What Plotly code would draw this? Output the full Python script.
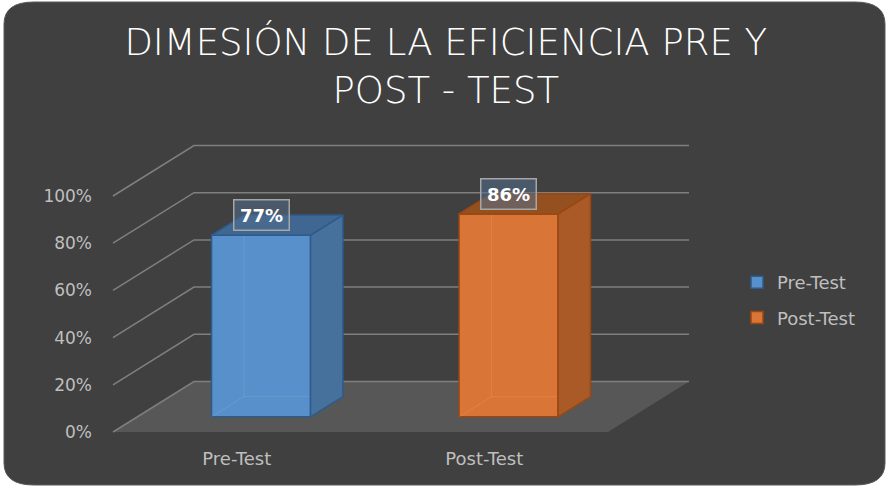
import plotly.graph_objects as go

# ---------------- data ----------------
categories = ["Pre-Test", "Post-Test"]
values = [0.77, 0.86]
value_labels = ["77%", "86%"]
tick_values = [0, 0.2, 0.4, 0.6, 0.8, 1.0]
tick_labels = ["0%", "20%", "40%", "60%", "80%", "100%"]
title_text = "DIMESIÓN DE LA EFICIENCIA PRE Y<br>POST - TEST"

# ---------------- styles ----------------
front_colors = ["#5790ca", "#d97536"]
side_colors = ["#46719d", "#a95a27"]
top_colors = ["#3f6791", "#94501f"]
edge_colors = ["#2d5b8a", "#9a4712"]
BG = "#404040"
FLOOR = "#575757"
GRID = "#7f7f7f"
TXT = "#bfbfbf"
FONT = "DejaVu Sans"

# ---------------- geometry (pixel layout) ----------------
W, H = 888, 486
ML, MR, MT, MB = 96, 188, 140, 46
PX0, PX1, PY0, PY1 = ML, W - MR, MT, H - MB
UX = 247.5          # px per category unit
UY = 236.0          # px per 100 %
FX, FY = 113, 432   # pixel of front-left floor corner
xr = [-0.5 - (FX - PX0) / UX, -0.5 + (PX1 - FX) / UX]
yr = [-(PY1 - FY) / UY, (FY - PY0) / UY]
DXU = 81 / UX       # full depth offset, x
DYU = 50.5 / UY     # full depth offset, y
BW = 0.4            # bar width (category units)
D0, D1 = 0.3, 0.7   # bar depth span


def P(x, v, d):
    return x + d * DXU, v + d * DYU


def path(points, close=True):
    s = "M " + " L ".join(f"{a:.5f},{b:.5f}" for a, b in points)
    return s + (" Z" if close else "")


def ppx(px):
    return (px - PX0) / (PX1 - PX0)


def ppy(py):
    return (PY1 - py) / (PY1 - PY0)


shapes = []
# rounded dark panel
x0, x1, y0, y1, rx, ry = 4, 885, 2, 485, 30, 22
pan = (f"M {ppx(x0+rx)},{ppy(y0)} L {ppx(x1-rx)},{ppy(y0)} Q {ppx(x1)},{ppy(y0)} {ppx(x1)},{ppy(y0+ry)} "
       f"L {ppx(x1)},{ppy(y1-ry)} Q {ppx(x1)},{ppy(y1)} {ppx(x1-rx)},{ppy(y1)} "
       f"L {ppx(x0+rx)},{ppy(y1)} Q {ppx(x0)},{ppy(y1)} {ppx(x0)},{ppy(y1-ry)} "
       f"L {ppx(x0)},{ppy(y0+ry)} Q {ppx(x0)},{ppy(y0)} {ppx(x0+rx)},{ppy(y0)} Z")
shapes.append(dict(type="path", xref="paper", yref="paper", path=pan, fillcolor=BG,
                   line=dict(color="#5a5a5a", width=1), layer="below"))

xl, xh = -0.5, len(categories) - 0.5
# floor
shapes.append(dict(type="path", xref="x", yref="y", layer="below",
                   path=path([P(xl, 0, 0), P(xh, 0, 0), P(xh, 0, 1), P(xl, 0, 1)]),
                   fillcolor=FLOOR, line=dict(width=0)))
# gridlines (side wall + back wall)
for tv in tick_values:
    shapes.append(dict(type="path", xref="x", yref="y", layer="below",
                       path=path([P(xl, tv, 0), P(xl, tv, 1), P(xh, tv, 1)], close=False),
                       line=dict(color=GRID, width=1.5)))

fig = go.Figure()

for i, (cat, v) in enumerate(zip(categories, values)):
    xa, xb = i - BW / 2, i + BW / 2
    # front face as a real bar
    fx, fb = P(i, 0, D0)
    fig.add_trace(go.Bar(x=[fx], y=[v], base=[fb], width=[BW], name=cat,
                         marker=dict(color=front_colors[i], line=dict(color=edge_colors[i], width=1.5)),
                         legendgroup=cat, hoverinfo="skip"))
    # hidden edges seen through the translucent bar
    he = [P(xa, v, D1), P(xa, 0, D1), P(xb, 0, D1)]
    fig.add_trace(go.Scatter(x=[p[0] for p in he], y=[p[1] for p in he], mode="lines",
                             line=dict(color="rgba(255,255,255,0.10)", width=1),
                             showlegend=False, hoverinfo="skip"))
    he2 = [P(xa, 0, D0), P(xa, 0, D1)]
    fig.add_trace(go.Scatter(x=[p[0] for p in he2], y=[p[1] for p in he2], mode="lines",
                             line=dict(color="rgba(255,255,255,0.10)", width=1),
                             showlegend=False, hoverinfo="skip"))
    # side face
    side = [P(xb, 0, D0), P(xb, 0, D1), P(xb, v, D1), P(xb, v, D0), P(xb, 0, D0)]
    fig.add_trace(go.Scatter(x=[p[0] for p in side], y=[p[1] for p in side], mode="lines",
                             fill="toself", fillcolor=side_colors[i],
                             line=dict(color=edge_colors[i], width=1.5),
                             showlegend=False, hoverinfo="skip"))
    # top face
    top = [P(xa, v, D0), P(xb, v, D0), P(xb, v, D1), P(xa, v, D1), P(xa, v, D0)]
    fig.add_trace(go.Scatter(x=[p[0] for p in top], y=[p[1] for p in top], mode="lines",
                             fill="toself", fillcolor=top_colors[i],
                             line=dict(color=edge_colors[i], width=1.5),
                             showlegend=False, hoverinfo="skip"))

annotations = []
for i, (v, lab) in enumerate(zip(values, value_labels)):
    ax_, _ = P(i, 0, D0)
    _, ay_ = P(i, v, D1)
    annotations.append(dict(x=ax_, y=ay_, xref="x", yref="y", text=f"<b>{lab}</b>", showarrow=False,
                            font=dict(family=FONT, size=18, color="#ffffff"),
                            bgcolor="rgba(80,110,140,0.55)", bordercolor="#a6a6a6",
                            borderwidth=1.5, borderpad=2, width=50, height=25,
                            xanchor="center", yanchor="middle"))

fig.update_layout(
    width=W, height=H,
    margin=dict(l=ML, r=MR, t=MT, b=MB, pad=0),
    paper_bgcolor="#ffffff", plot_bgcolor="rgba(0,0,0,0)",
    barmode="overlay",
    shapes=shapes, annotations=annotations,
    title=dict(text=title_text, x=0.502, xref="container", xanchor="center",
               y=1 - 55 / H, yref="container", yanchor="middle",
               font=dict(family=FONT, size=37, color="#ffffff", weight=200)),
    xaxis=dict(range=xr, tickvals=list(range(len(categories))), ticktext=categories,
               showgrid=False, zeroline=False, showline=False, ticks="",
               tickfont=dict(family=FONT, size=18, color=TXT), ticklabelstandoff=6,
               fixedrange=True),
    yaxis=dict(range=yr, tickvals=tick_values, ticktext=tick_labels,
               showgrid=False, zeroline=False, showline=False, ticks="",
               tickfont=dict(family=FONT, size=17, color=TXT), ticklabelstandoff=3,
               fixedrange=True),
    legend=dict(x=ppx(737), y=ppy(264), xanchor="left", yanchor="top",
                bgcolor="rgba(0,0,0,0)", traceorder="grouped", tracegroupgap=9,
                font=dict(family=FONT, size=18, color=TXT)),
    showlegend=True,
)

fig.write_html("out.html", config={"displayModeBar": False},
               post_script="document.body.style.margin='0';document.body.style.padding='0';")
